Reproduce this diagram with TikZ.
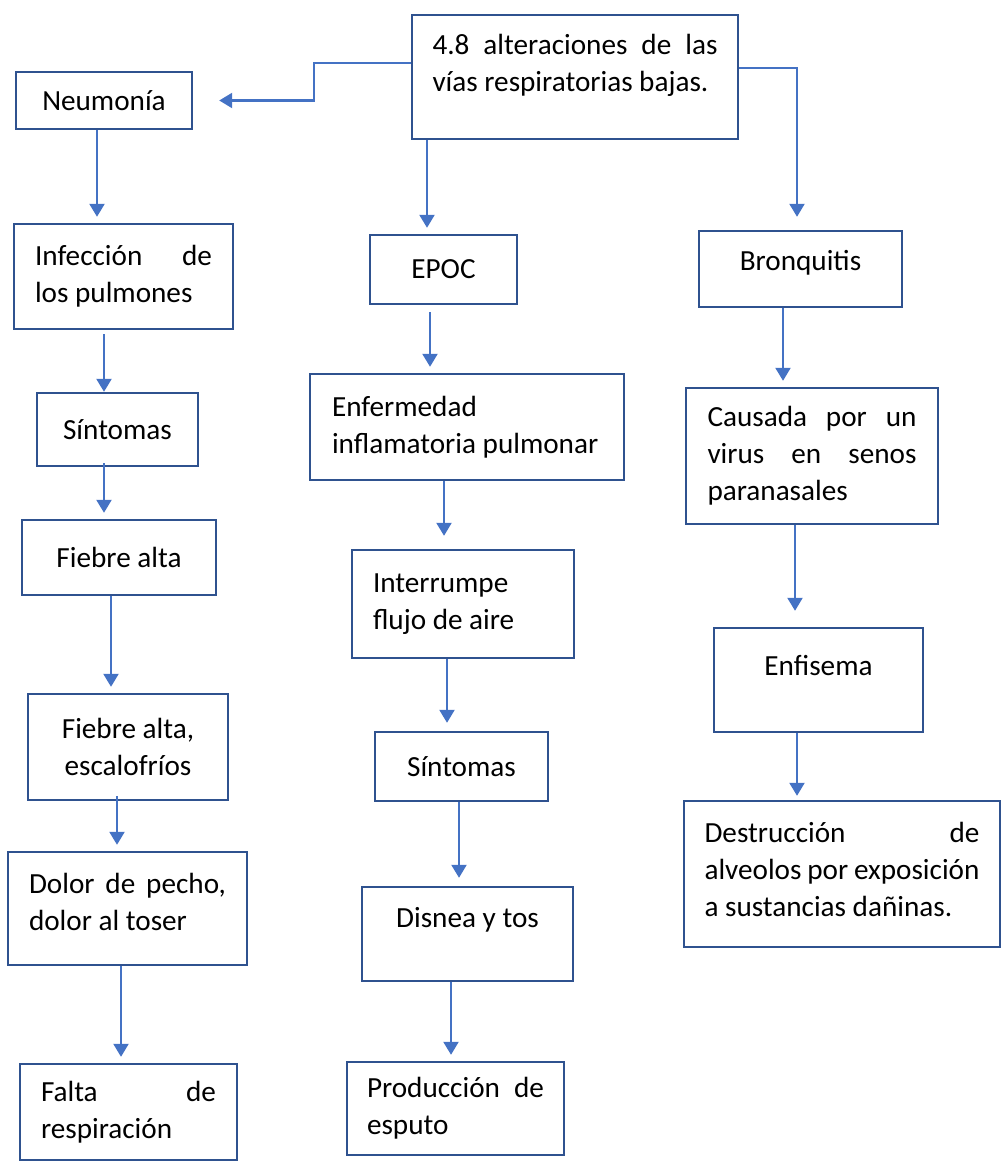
\documentclass[tikz,border=0pt]{standalone}
\usepackage{fontspec}
\setmainfont{Carlito}
\usetikzlibrary{arrows.meta}
\definecolor{boxblue}{HTML}{2F528F}
\definecolor{arrowblue}{HTML}{4472C4}
\begin{document}
\begin{tikzpicture}[x=0.5pt, y=-0.5pt,
		box/.style={draw=boxblue, line width=1.2pt, fill=white, inner sep=0pt, font=\fontsize{14.6}{18.5}\selectfont},
		boxsize/.style 2 args={minimum width=#1pt, minimum height=#2pt},
		para/.style={text width=#1pt, align=flush left},
		arr/.style={draw=arrowblue, line width=1.1pt, -{Triangle[width=7.5pt,length=6.5pt]}, shorten >=3pt}]
		\useasboundingbox (0,0) rectangle (1002,1170);

		% Main topic
		\node[box, boxsize={163}{62}, para=142.5, text depth=32.5pt] (top) at (575,77)
			{4.8\hfill alteraciones\hfill de\hfill las\\vías respiratorias bajas.};

		% Neumonia column
		\node[box, boxsize={88}{28.5}] (neum) at (104,100.5) {Neumonía};
		\node[box, boxsize={109.5}{52.5}, para=88.5] (infec) at (123.5,276.5) {Infección\hfill de\\los pulmones};
		\node[box, boxsize={80.5}{36.5}] (sintL) at (117.5,429.5) {Síntomas};
		\node[box, boxsize={97}{37.5}] (fiebre) at (119,557.5) {Fiebre alta};
		\node[box, boxsize={100}{53}, align=flush center] (escalo) at (128,747) {Fiebre alta,\\escalofríos};
		\node[box, boxsize={119.5}{56.5}, para=98.5, text depth=25.5pt] (dolor) at (127.5,908.5) {Dolor\hfill de\hfill pecho,\\dolor al toser};
		\node[box, boxsize={108.5}{48}, para=87.5] (falta) at (128.5,1112) {Falta\hfill de\\respiración};

		% EPOC column
		\node[box, boxsize={73.5}{34.5}] (epoc) at (443.5,269.5) {EPOC};
		\node[box, boxsize={157}{53}, para=135] (enf) at (467,427) {Enfermedad\\inflamatoria pulmonar};
		\node[box, boxsize={111}{54}, para=90] (inter) at (463,604) {Interrumpe\\flujo de aire};
		\node[box, boxsize={86.5}{34.5}] (sintM) at (461.5,766.5) {Síntomas};
		\node[box, boxsize={105.5}{47}, text depth=17pt] (disnea) at (467.5,934) {Disnea y tos};
		\node[box, boxsize={108.5}{46.5}, para=88.5] (prod) at (455.5,1108.5) {Producción\hfill de\\esputo};

		% Bronquitis column
		\node[box, boxsize={101.5}{38}, text depth=9pt] (bronq) at (800.5,269) {Bronquitis};
		\node[box, boxsize={126}{68}, para=104.5] (causa) at (812,456) {Causada\hfill por\hfill un\\virus\hfill en\hfill senos\\paranasales};
		\node[box, boxsize={104.5}{52}, text depth=15pt] (enfis) at (818.5,680) {Enfisema};
		\node[box, boxsize={158}{73}, para=137.5, text depth=42pt] (destr) at (842,874)
			{Destrucción\hfill de\\alveolos\hfill por\hfill exposición\\a sustancias dañinas.};

		% From the main topic
		\draw[arr, shorten >=13pt] ([yshift=7pt]top.west) -- ++(-97,0) |- (neum.east);
		\draw[arr] (top.south -| 427,0) -- (epoc.north -| 427,0);
		\draw[arr, shorten >=6.5pt] ([yshift=4.5pt]top.east) -| (bronq.north -| 797,0);

		% Neumonia chain
		\draw[arr] (neum.south -| 97,0) -- (infec.north -| 97,0);
		\draw[arr, shorten <=2pt, shorten >=0pt] (infec.south -| 104,0) -- (sintL.north -| 104,0);
		\draw[arr, shorten <=-2pt] (sintL.south -| 104,0) -- (fiebre.north -| 104,0);
		\draw[arr] (fiebre.south -| 111,0) -- (escalo.north -| 111,0);
		\draw[arr, shorten <=-2.5pt] (escalo.south -| 117,0) -- (dolor.north -| 117,0);
		\draw[arr] (dolor.south -| 121,0) -- (falta.north -| 121,0);

		% EPOC chain
		\draw[arr, shorten <=3.5pt] (epoc.south -| 430,0) -- (enf.north -| 430,0);
		\draw[arr, shorten >=6.5pt] (enf.south -| 444,0) -- (inter.north -| 444,0);
		\draw[arr, shorten >=4pt] (inter.south -| 447,0) -- (sintM.north -| 447,0);
		\draw[arr, shorten >=4pt] (sintM.south -| 459,0) -- (disnea.north -| 459,0);
		\draw[arr] (disnea.south -| 451,0) -- (prod.north -| 451,0);

		% Bronquitis chain
		\draw[arr] (bronq.south -| 783,0) -- (causa.north -| 783,0);
		\draw[arr, shorten >=8pt] (causa.south -| 795,0) -- (enfis.north -| 795,0);
		\draw[arr, shorten >=2pt] (enfis.south -| 797,0) -- (destr.north -| 797,0);
	\end{tikzpicture}
\end{document}
